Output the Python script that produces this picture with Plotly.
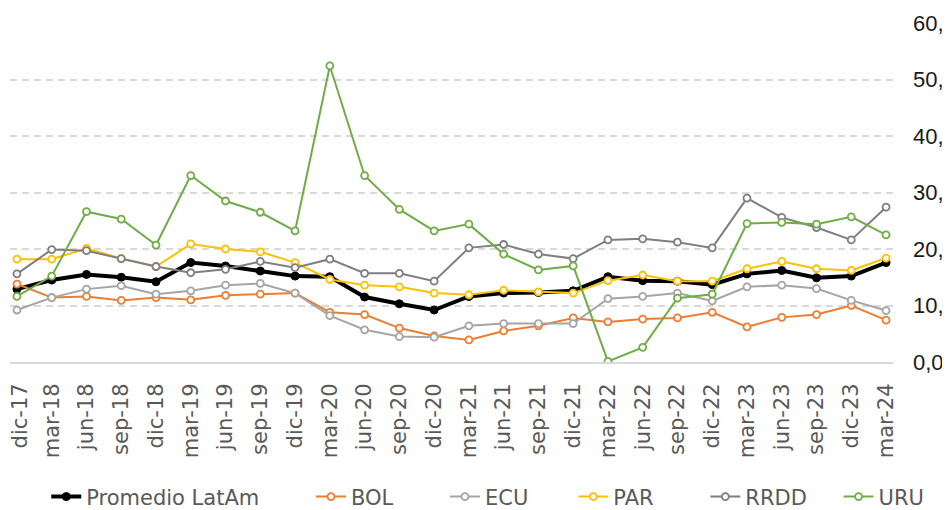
import plotly.graph_objects as go

categories = ["dic-17", "mar-18", "jun-18", "sep-18", "dic-18", "mar-19", "jun-19", "sep-19",
              "dic-19", "mar-20", "jun-20", "sep-20", "dic-20", "mar-21", "jun-21", "sep-21",
              "dic-21", "mar-22", "jun-22", "sep-22", "dic-22", "mar-23", "jun-23", "sep-23",
              "dic-23", "mar-24"]

promedio = [12.9, 14.5, 15.5, 15.0, 14.2, 17.6, 17.0, 16.1, 15.2, 15.1, 11.5, 10.3, 9.2,
            11.6, 12.2, 12.3, 12.6, 15.1, 14.4, 14.3, 13.7, 15.6, 16.2, 14.9, 15.2, 17.6]
bol = [13.8, 11.4, 11.6, 10.9, 11.4, 11.0, 11.8, 12.0, 12.2, 8.8, 8.4, 6.0, 4.6,
       3.9, 5.5, 6.4, 7.8, 7.1, 7.6, 7.8, 8.8, 6.2, 7.9, 8.4, 10.0, 7.4]
ecu = [9.2, 11.4, 12.9, 13.5, 12.0, 12.6, 13.6, 13.9, 12.2, 8.2, 5.7, 4.5, 4.4,
       6.4, 6.8, 6.8, 6.8, 11.2, 11.6, 12.2, 10.8, 13.3, 13.6, 13.0, 10.9, 9.1]
par = [18.2, 18.2, 20.1, 18.3, 16.9, 20.9, 20.0, 19.5, 17.6, 14.6, 13.6, 13.3, 12.2,
       11.9, 12.7, 12.4, 12.2, 14.4, 15.4, 14.3, 14.3, 16.5, 17.8, 16.5, 16.2, 18.4]
rrdd = [15.6, 19.9, 19.7, 18.3, 16.9, 15.8, 16.4, 17.8, 16.7, 18.2, 15.7, 15.7, 14.3,
        20.2, 20.8, 19.1, 18.3, 21.6, 21.8, 21.2, 20.2, 29.0, 25.6, 23.8, 21.6, 27.4]
uru = [11.6, 15.2, 26.6, 25.3, 20.7, 33.0, 28.5, 26.5, 23.2, 52.4, 33.0, 27.0, 23.2,
       24.4, 19.1, 16.3, 17.0, 0.1, 2.6, 11.3, 12.0, 24.5, 24.7, 24.4, 25.7, 22.5]

series_names = ["Promedio LatAm", "BOL", "ECU", "PAR", "RRDD", "URU"]
series_values = [promedio, bol, ecu, par, rrdd, uru]
colors = ["#000000", "#ED7D31", "#A5A5A5", "#FFC000", "#7F7F7F", "#70AD47"]
legend_pad = [7, 7, 6, 7, 4, 0]

xs = list(range(len(categories)))
# label positions: first label nudged inward slightly, as in the original
label_pos = [x + (0.1 if x == 0 else 0.0) for x in xs]

fig = go.Figure()
for i, (name, vals, col) in enumerate(zip(series_names, series_values, colors)):
    if i == 0:
        line = dict(color=col, width=4)
        marker = dict(symbol="circle", size=8, color=col, line=dict(color=col, width=1))
    else:
        line = dict(color=col, width=2)
        marker = dict(symbol="circle", size=7, color="white", line=dict(color=col, width=1.8))
    fig.add_trace(go.Scatter(x=xs, y=vals, name=name + "\u00a0" * legend_pad[i],
                             mode="lines+markers", line=line, marker=marker))

fig.update_layout(
    width=942, height=502,
    margin=dict(l=2, r=57, t=15, b=148, autoexpand=False),
    plot_bgcolor="white", paper_bgcolor="white",
    separators=",.",
    showlegend=True,
    legend=dict(orientation="h", xref="container", yref="container",
                x=0.0406, xanchor="left", y=0.026, yanchor="middle",
                font=dict(family="DejaVu Sans", size=21, color="#595959"),
                bgcolor="rgba(0,0,0,0)"),
    xaxis=dict(range=[-0.2, 25.2], tickmode="array", tickvals=label_pos, ticktext=categories,
               tickangle=-90, showgrid=False, zeroline=False, automargin=False,
               showline=True, linecolor="#D9D9D9", linewidth=2,
               ticks="", ticklabelstandoff=11, ticklabeloverflow="allow",
               tickfont=dict(family="DejaVu Sans", size=21, color="#595959")),
    xaxis2=dict(range=[-0.2, 25.2], overlaying="x", anchor="y", side="bottom",
                tickmode="array", tickvals=[x - 0.15 for x in xs], automargin=False,
                showticklabels=False, showgrid=False, zeroline=False, showline=False,
                ticks="outside", ticklen=7, tickwidth=2, tickcolor="#D9D9D9"),
    yaxis=dict(range=[0, 60], side="right", dtick=10, tickformat=".1f", automargin=False,
               showgrid=True, gridcolor="#D9D9D9", gridwidth=2, griddash="7px,5px",
               zeroline=False, showline=False, ticks="", ticklabelstandoff=19,
               ticklabeloverflow="allow",
               tickfont=dict(family="Liberation Sans", size=22, color="#1a1a1a")),
)

fig.write_html("out.html")
